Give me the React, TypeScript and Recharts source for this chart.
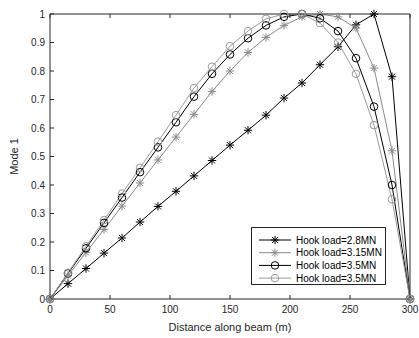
import { LineChart, Line, XAxis, YAxis } from "recharts";

const FONT = "'Liberation Sans', Arial, Helvetica, sans-serif";
const AXIS = "#262626";
const BLACK = "#000000";
const GRAY1 = "#8a8a8a";
const GRAY2 = "#9a9a9a";

// distance along beam (m)
const distance = [0, 15, 30, 45, 60, 75, 90, 105, 120, 135, 150, 165, 180, 195, 210, 225, 240, 255, 270, 285, 300];

// mode 1 shape for each hook load
const load28 = [0, 0.054, 0.107, 0.161, 0.214, 0.27, 0.325, 0.378, 0.432, 0.486, 0.54, 0.592, 0.645, 0.705, 0.758, 0.822, 0.885, 0.962, 1.0, 0.78, 0];
const load315 = [0, 0.082, 0.163, 0.244, 0.326, 0.407, 0.488, 0.568, 0.648, 0.728, 0.8, 0.865, 0.918, 0.96, 0.99, 1.0, 0.99, 0.95, 0.81, 0.52, 0];
const load35a = [0, 0.09, 0.178, 0.267, 0.356, 0.445, 0.532, 0.62, 0.71, 0.79, 0.858, 0.915, 0.96, 0.99, 1.0, 0.985, 0.94, 0.845, 0.675, 0.4, 0];
const load35b = [0, 0.092, 0.185, 0.277, 0.37, 0.46, 0.552, 0.645, 0.74, 0.815, 0.887, 0.94, 0.983, 1.0, 1.0, 0.968, 0.9, 0.79, 0.61, 0.35, 0];

const xTicks = [0, 50, 100, 150, 200, 250, 300];
const yTicks = [0, 0.1, 0.2, 0.3, 0.4, 0.5, 0.6, 0.7, 0.8, 0.9, 1];

const series = [
  { key: "a", name: "Hook load=2.8MN", color: BLACK, marker: "star" },
  { key: "b", name: "Hook load=3.15MN", color: GRAY1, marker: "star" },
  { key: "c", name: "Hook load=3.5MN", color: BLACK, marker: "circle" },
  { key: "d", name: "Hook load=3.5MN", color: GRAY2, marker: "circle" },
];

const data = distance.map((x, i) => ({
  x,
  a: load28[i],
  b: load315[i],
  c: load35a[i],
  d: load35b[i],
}));

function Marker({ cx, cy, color, kind }: { cx: number; cy: number; color: string; kind: string }) {
  if (kind === "circle") {
    return <circle cx={cx} cy={cy} r={3.8} fill="none" stroke={color} strokeWidth={1} />;
  }
  const r = 4.2;
  const d = r * 0.72;
  return (
    <g stroke={color} strokeWidth={1}>
      <line x1={cx - r} y1={cy} x2={cx + r} y2={cy} />
      <line x1={cx} y1={cy - r} x2={cx} y2={cy + r} />
      <line x1={cx - d} y1={cy - d} x2={cx + d} y2={cy + d} />
      <line x1={cx - d} y1={cy + d} x2={cx + d} y2={cy - d} />
    </g>
  );
}

function LegendBox() {
  return (
    <div
      style={{
        position: "absolute",
        left: 251,
        top: 227,
        width: 133,
        height: 56,
        border: `1px solid ${AXIS}`,
        background: "#fff",
      }}
    >
      <svg width={133} height={56}>
        {series.map((s, i) => {
          const y = 12 + i * 12.7;
          return (
            <g key={s.key}>
              <line x1={7} y1={y} x2={39} y2={y} stroke={s.color} strokeWidth={1} />
              <Marker cx={23} cy={y} color={s.color} kind={s.marker} />
              <text x={44} y={y} dominantBaseline="central" fontSize={10} fontFamily={FONT} fill="#000">
                {s.name}
              </text>
            </g>
          );
        })}
      </svg>
    </div>
  );
}

const tickStyle = { fontSize: 10, fill: AXIS, fontFamily: FONT };

export default function App() {
  return (
    <div style={{ position: "absolute", left: 0, top: 0, width: 419, height: 338, background: "#fff" }}>
      <LineChart width={419} height={338} data={data} margin={{ top: 0, right: 0, bottom: 0, left: 0 }}>
        <XAxis
          xAxisId="b"
          dataKey="x"
          type="number"
          domain={[0, 300]}
          ticks={xTicks}
          height={39}
          stroke={AXIS}
          tickSize={-4}
          tickMargin={11}
          tick={tickStyle}
          label={{
            content: (p: any) => {
              const vb = p.viewBox || { x: 50, width: 360 };
              return (
                <text x={vb.x + vb.width / 2} y={327} textAnchor="middle" dominantBaseline="central" fontSize={11} fontFamily={FONT} fill={AXIS}>
                  Distance along beam (m)
                </text>
              );
            },
          }}
        />
        <XAxis
          xAxisId="t"
          dataKey="x"
          type="number"
          orientation="top"
          domain={[0, 300]}
          ticks={xTicks}
          height={14}
          stroke={AXIS}
          tickSize={-4}
          tickFormatter={() => ""}
        />
        <YAxis
          yAxisId="l"
          type="number"
          domain={[0, 1]}
          ticks={yTicks}
          width={50}
          stroke={AXIS}
          tickSize={-4}
          tickMargin={9}
          tick={tickStyle}
          label={{
            content: (p: any) => {
              const vb = p.viewBox || { y: 14, height: 285 };
              const cy = vb.y + vb.height / 2;
              return (
                <text x={14} y={cy} transform={`rotate(-90 14 ${cy})`} textAnchor="middle" dominantBaseline="central" fontSize={11} fontFamily={FONT} fill={AXIS}>
                  Mode 1
                </text>
              );
            },
          }}
        />
        <YAxis
          yAxisId="r"
          type="number"
          orientation="right"
          domain={[0, 1]}
          ticks={yTicks}
          width={9}
          stroke={AXIS}
          tickSize={-4}
          tickFormatter={() => ""}
        />
        {series.map((s) => (
          <Line
            key={s.key}
            xAxisId="b"
            yAxisId="l"
            dataKey={s.key}
            name={s.name}
            type="linear"
            stroke={s.color}
            strokeWidth={1}
            isAnimationActive={false}
            activeDot={false}
            dot={(p: any) => (
              <Marker key={`${s.key}-${p.index}`} cx={p.cx} cy={p.cy} color={s.color} kind={s.marker} />
            )}
          />
        ))}
      </LineChart>
      <LegendBox />
    </div>
  );
}
